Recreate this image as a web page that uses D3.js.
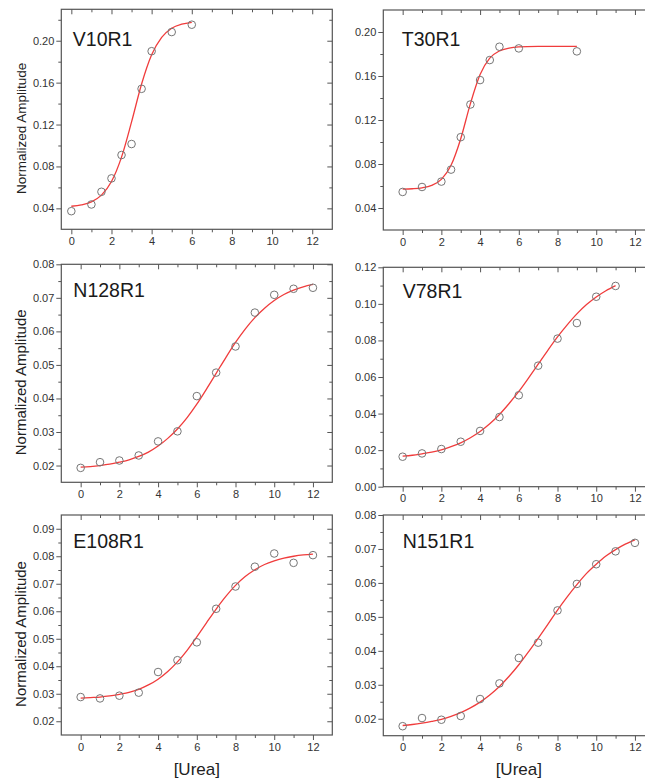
<!DOCTYPE html>
<html>
<head>
<meta charset="utf-8">
<script src="https://cdn.jsdelivr.net/npm/d3@7/dist/d3.min.js"></script>
<style>
  html, body { margin: 0; padding: 0; background: #fff; }
  svg { display: block; }
  text { font-family: "Liberation Sans", Arial, Helvetica, sans-serif; }
</style>
</head>
<body>
<script>
// ---------- DATA ----------
const xTickValues = [0, 2, 4, 6, 8, 10, 12];
const xMinorValues = [1, 3, 5, 7, 9, 11];
const panelNames = ["V10R1", "T30R1", "N128R1", "V78R1", "E108R1", "N151R1"];
const yAxisTitle = "Normalized Amplitude";
const xAxisTitle = "[Urea]";

// V10R1
const v10r1X = [0, 1, 1.5, 2, 2.5, 3, 3.5, 4, 5, 6];
const v10r1Y = [0.0373, 0.0437, 0.0558, 0.0686, 0.0909, 0.1014, 0.1541, 0.1900, 0.2083, 0.2153];
const v10r1FitX = [0, 0.5, 1, 1.5, 2, 2.5, 3, 3.5, 4, 4.5, 5, 5.5, 6];
const v10r1FitY = [0.0420, 0.0433, 0.0462, 0.0526, 0.0656, 0.0889, 0.1225, 0.1587, 0.1866, 0.2032, 0.2119, 0.2158, 0.2176];
const v10r1YTicks = [0.04, 0.08, 0.12, 0.16, 0.20];

// T30R1
const t30r1X = [0, 1, 2, 2.5, 3, 3.5, 4, 4.5, 5, 6, 9];
const t30r1Y = [0.0546, 0.0591, 0.0640, 0.0749, 0.1044, 0.1341, 0.1563, 0.1745, 0.1866, 0.1851, 0.1824];
const t30r1FitX = [0, 0.5, 1, 1.5, 2, 2.5, 3, 3.5, 4, 4.5, 5, 5.5, 6, 7, 8, 9];
const t30r1FitY = [0.0572, 0.0575, 0.0583, 0.0605, 0.0660, 0.0788, 0.1030, 0.1349, 0.1613, 0.1762, 0.1828, 0.1854, 0.1864, 0.1869, 0.1870, 0.1870];
const t30r1YTicks = [0.04, 0.08, 0.12, 0.16, 0.20];

// N128R1
const n128r1X = [0, 1, 2, 3, 4, 5, 6, 7, 8, 9, 10, 11, 12];
const n128r1Y = [0.0193, 0.0210, 0.0215, 0.0230, 0.0272, 0.0302, 0.0407, 0.0477, 0.0555, 0.0656, 0.0709, 0.0727, 0.0730];
const n128r1FitX = [0, 0.5, 1, 1.5, 2, 2.5, 3, 3.5, 4, 4.5, 5, 5.5, 6, 6.5, 7, 7.5, 8, 8.5, 9, 9.5, 10, 10.5, 11, 11.5, 12];
const n128r1FitY = [0.0195, 0.0197, 0.0200, 0.0204, 0.0210, 0.0217, 0.0227, 0.0240, 0.0258, 0.0281, 0.0309, 0.0343, 0.0383, 0.0428, 0.0475, 0.0522, 0.0567, 0.0607, 0.0641, 0.0669, 0.0692, 0.0710, 0.0723, 0.0733, 0.0740];
const n128r1YTicks = [0.02, 0.03, 0.04, 0.05, 0.06, 0.07, 0.08];

// V78R1
const v78r1X = [0, 1, 2, 3, 4, 5, 6, 7, 8, 9, 10, 11];
const v78r1Y = [0.0164, 0.0182, 0.0206, 0.0246, 0.0305, 0.0381, 0.0500, 0.0662, 0.0810, 0.0895, 0.1039, 0.1098];
const v78r1FitX = [0, 0.5, 1, 1.5, 2, 2.5, 3, 3.5, 4, 4.5, 5, 5.5, 6, 6.5, 7, 7.5, 8, 8.5, 9, 9.5, 10, 10.5, 11];
const v78r1FitY = [0.0167, 0.0172, 0.0180, 0.0189, 0.0202, 0.0219, 0.0240, 0.0268, 0.0302, 0.0344, 0.0395, 0.0455, 0.0521, 0.0594, 0.0670, 0.0746, 0.0819, 0.0885, 0.0945, 0.0996, 0.1038, 0.1072, 0.1100];
const v78r1YTicks = [0.00, 0.02, 0.04, 0.06, 0.08, 0.10, 0.12];

// E108R1
const e108r1X = [0, 1, 2, 3, 4, 5, 6, 7, 8, 9, 10, 11, 12];
const e108r1Y = [0.0288, 0.0283, 0.0293, 0.0304, 0.0379, 0.0422, 0.0487, 0.0609, 0.0690, 0.0762, 0.0810, 0.0776, 0.0804];
const e108r1FitX = [0, 0.5, 1, 1.5, 2, 2.5, 3, 3.5, 4, 4.5, 5, 5.5, 6, 6.5, 7, 7.5, 8, 8.5, 9, 9.5, 10, 10.5, 11, 11.5, 12];
const e108r1FitY = [0.0284, 0.0286, 0.0288, 0.0292, 0.0298, 0.0305, 0.0316, 0.0332, 0.0353, 0.0381, 0.0416, 0.0458, 0.0507, 0.0558, 0.0608, 0.0654, 0.0694, 0.0726, 0.0751, 0.0770, 0.0783, 0.0793, 0.0800, 0.0805, 0.0808];
const e108r1YTicks = [0.02, 0.03, 0.04, 0.05, 0.06, 0.07, 0.08, 0.09];

// N151R1
const n151r1X = [0, 1, 2, 3, 4, 5, 6, 7, 8, 9, 10, 11, 12];
const n151r1Y = [0.0178, 0.0202, 0.0197, 0.0208, 0.0258, 0.0304, 0.0379, 0.0424, 0.0519, 0.0597, 0.0655, 0.0693, 0.0718];
const n151r1FitX = [0, 0.5, 1, 1.5, 2, 2.5, 3, 3.5, 4, 4.5, 5, 5.5, 6, 6.5, 7, 7.5, 8, 8.5, 9, 9.5, 10, 10.5, 11, 11.5, 12];
const n151r1FitY = [0.0180, 0.0183, 0.0187, 0.0192, 0.0198, 0.0207, 0.0218, 0.0232, 0.0249, 0.0270, 0.0295, 0.0325, 0.0359, 0.0397, 0.0437, 0.0478, 0.0520, 0.0559, 0.0595, 0.0628, 0.0655, 0.0679, 0.0698, 0.0714, 0.0727];
const n151r1YTicks = [0.02, 0.03, 0.04, 0.05, 0.06, 0.07, 0.08];

// ---------- LAYOUT ----------
const W = 645, H = 779;
const svg = d3.select("body").append("svg").attr("width", W).attr("height", H);

const panels = [
  { name: panelNames[0], x: v10r1X, y: v10r1Y, fx: v10r1FitX, fy: v10r1FitY, yTicks: v10r1YTicks,
    left: 61.3, top: 9.3, w: 271, h: 220, xDom: [-0.5, 13], yDom: [0.02, 0.23], minorStep: 0.02,
    labX: 11.5, labY: 36.4, title: true, titleSize: 13.5 },
  { name: panelNames[1], x: t30r1X, y: t30r1Y, fx: t30r1FitX, fy: t30r1FitY, yTicks: t30r1YTicks,
    left: 383.3, top: 10, w: 271, h: 220, xDom: [-1, 13], yDom: [0.02, 0.22], minorStep: 0.02,
    labX: 18.5, labY: 36, title: false },
  { name: panelNames[2], x: n128r1X, y: n128r1Y, fx: n128r1FitX, fy: n128r1FitY, yTicks: n128r1YTicks,
    left: 61.3, top: 264.3, w: 271, h: 218, xDom: [-1, 13], yDom: [0.015, 0.08], minorStep: 0.005,
    labX: 12, labY: 32.4, title: true, titleSize: 15 },
  { name: panelNames[3], x: v78r1X, y: v78r1Y, fx: v78r1FitX, fy: v78r1FitY, yTicks: v78r1YTicks,
    left: 383.3, top: 267.3, w: 271, h: 219.4, xDom: [-1, 13], yDom: [0, 0.12], minorStep: 0.01,
    labX: 19.4, labY: 31, title: false },
  { name: panelNames[4], x: e108r1X, y: e108r1Y, fx: e108r1FitX, fy: e108r1FitY, yTicks: e108r1YTicks,
    left: 61.3, top: 515, w: 271, h: 220, xDom: [-1, 13], yDom: [0.015, 0.095], minorStep: 0.005,
    labX: 12, labY: 33, title: true, titleSize: 15, xTitle: true },
  { name: panelNames[5], x: n151r1X, y: n151r1Y, fx: n151r1FitX, fy: n151r1FitY, yTicks: n151r1YTicks,
    left: 383.3, top: 515, w: 271, h: 220.7, xDom: [-1, 13], yDom: [0.015, 0.08], minorStep: 0.005,
    labX: 19.4, labY: 33, title: false, xTitle: true }
];

const frameColor = "#555";
const tickTextColor = "#333";

function styleAxis(g) {
  g.select(".domain").remove();
  g.selectAll(".tick line").attr("stroke", frameColor).attr("stroke-width", 1);
  g.selectAll(".tick text").attr("fill", tickTextColor).style("font-size", "11px");
}

panels.forEach(p => {
  const xs = d3.scaleLinear().domain(p.xDom).range([0, p.w]);
  const ys = d3.scaleLinear().domain(p.yDom).range([p.h, 0]);
  const g = svg.append("g").attr("transform", `translate(${p.left},${p.top})`);

  // minor y ticks (halfway between majors), inside domain
  const yMinor = [];
  const y0 = p.yTicks[0] - p.minorStep;
  for (let i = 0; i < 40; i++) {
    const v = +(y0 + i * p.minorStep).toFixed(4);
    if (v > p.yDom[1] + 1e-9) break;
    if (v <= p.yDom[0] + 1e-9 || v >= p.yDom[1] - 1e-9) continue;
    if (p.yTicks.some(t => Math.abs(t - v) < 1e-9)) continue;
    yMinor.push(v);
  }
  const yMajorIn = p.yTicks.filter(v => v >= p.yDom[0] - 1e-9 && v <= p.yDom[1] + 1e-9);

  // bottom
  g.append("g").attr("transform", `translate(0,${p.h})`)
    .call(d3.axisBottom(xs).tickValues(xTickValues).tickSize(5).tickPadding(3).tickFormat(d3.format("d")))
    .call(styleAxis);
  g.append("g").attr("transform", `translate(0,${p.h})`)
    .call(d3.axisBottom(xs).tickValues(xMinorValues).tickSize(3).tickFormat(""))
    .call(styleAxis);
  // top (inward)
  g.append("g")
    .call(d3.axisTop(xs).tickValues(xTickValues).tickSize(-5).tickFormat(""))
    .call(styleAxis);
  g.append("g")
    .call(d3.axisTop(xs).tickValues(xMinorValues).tickSize(-3).tickFormat(""))
    .call(styleAxis);
  // left
  g.append("g")
    .call(d3.axisLeft(ys).tickValues(yMajorIn).tickSize(5).tickPadding(2).tickFormat(d3.format(".2f")))
    .call(styleAxis);
  g.append("g")
    .call(d3.axisLeft(ys).tickValues(yMinor).tickSize(3).tickFormat(""))
    .call(styleAxis);
  // right (inward)
  g.append("g").attr("transform", `translate(${p.w},0)`)
    .call(d3.axisRight(ys).tickValues(yMajorIn).tickSize(-5).tickFormat(""))
    .call(styleAxis);
  g.append("g").attr("transform", `translate(${p.w},0)`)
    .call(d3.axisRight(ys).tickValues(yMinor).tickSize(-3).tickFormat(""))
    .call(styleAxis);

  // frame
  g.append("rect").attr("x", 0).attr("y", 0).attr("width", p.w).attr("height", p.h)
    .attr("fill", "none").attr("stroke", frameColor).attr("stroke-width", 1.2);

  // fit curve
  const fit = p.fx.map((v, i) => [v, p.fy[i]]);
  g.append("path").datum(fit)
    .attr("fill", "none").attr("stroke", "#f03c3c").attr("stroke-width", 1.3)
    .attr("d", d3.line().x(d => xs(d[0])).y(d => ys(d[1])).curve(d3.curveMonotoneX));

  // points
  g.selectAll("circle.pt").data(p.x.map((v, i) => [v, p.y[i]])).enter()
    .append("circle").attr("class", "pt")
    .attr("cx", d => xs(d[0])).attr("cy", d => ys(d[1])).attr("r", 3.8)
    .attr("fill", "none").attr("stroke", "#767676").attr("stroke-width", 1);

  // panel label
  g.append("text").attr("x", p.labX).attr("y", p.labY)
    .attr("fill", "#1a1a1a").style("font-size", "19.5px").text(p.name);

  // y title
  if (p.title) {
    svg.append("text")
      .attr("transform", `translate(25.5,${p.top + p.h / 2 + 9}) rotate(-90)`)
      .attr("text-anchor", "middle").attr("fill", "#222")
      .style("font-size", p.titleSize + "px").text(yAxisTitle);
  }
  if (p.xTitle) {
    svg.append("text")
      .attr("x", p.left + xs(6)).attr("y", 774.5)
      .attr("text-anchor", "middle").attr("fill", "#222")
      .style("font-size", "17px").text(xAxisTitle);
  }
});
</script>
</body>
</html>
